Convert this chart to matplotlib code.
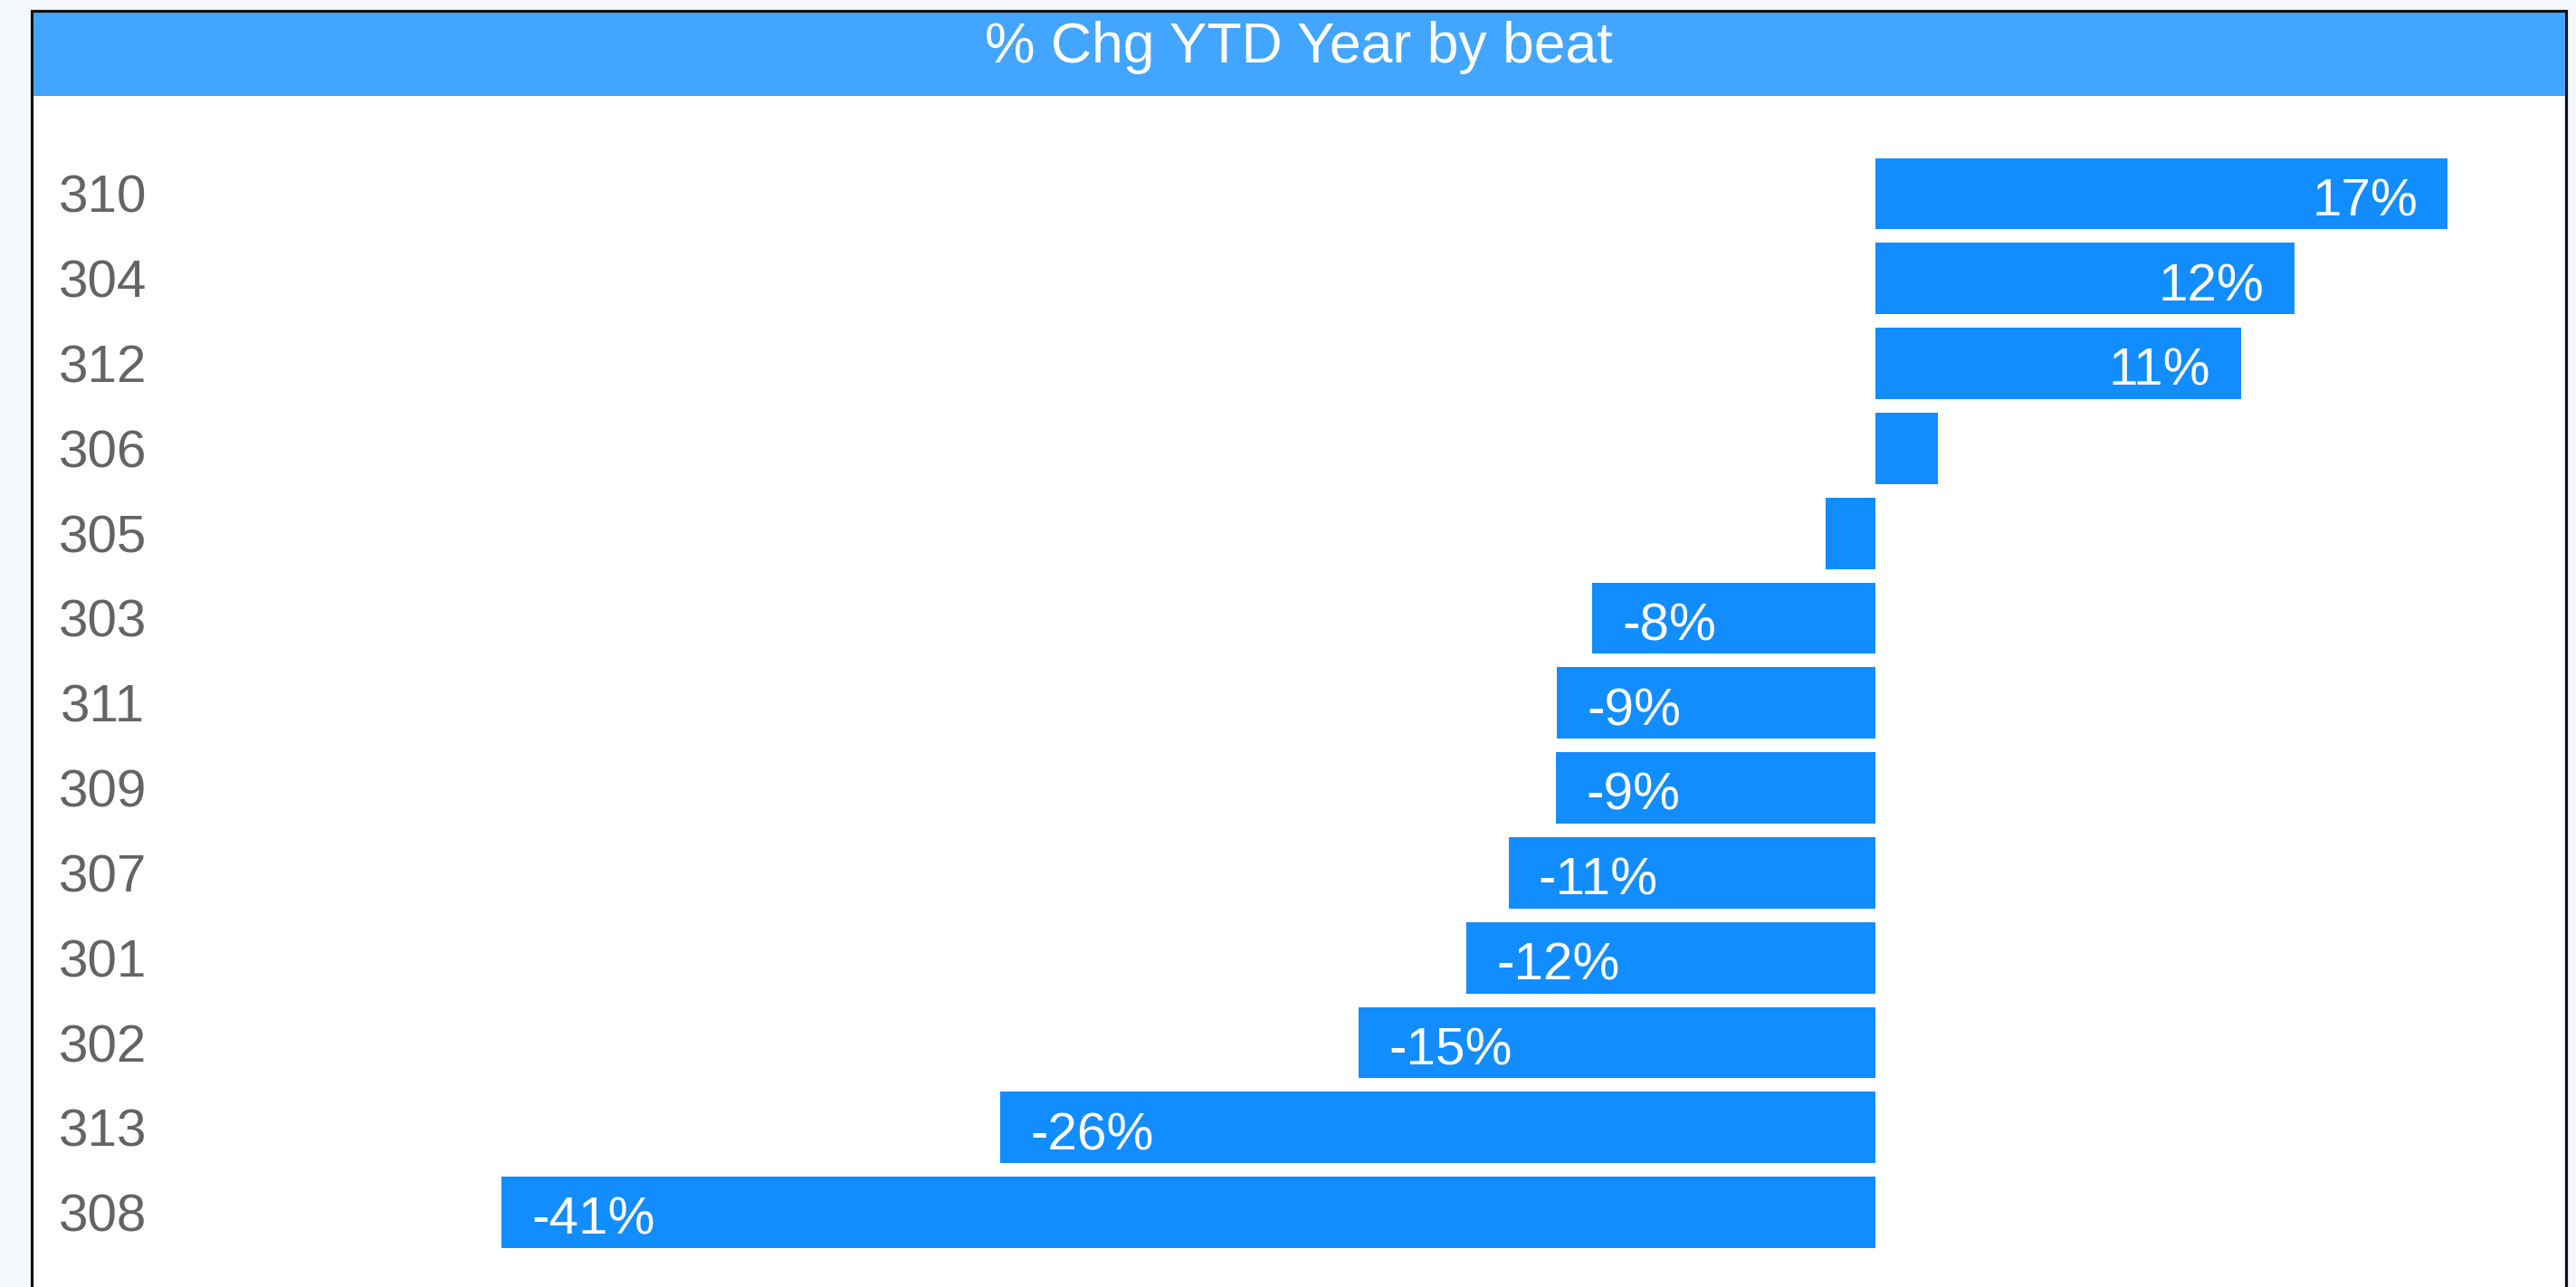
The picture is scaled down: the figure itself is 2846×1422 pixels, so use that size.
import matplotlib
matplotlib.use("Agg")
import matplotlib.pyplot as plt
from matplotlib.patches import Rectangle

plt.rcParams['font.family'] = ['Liberation Sans', 'DejaVu Sans']

# data
beats = ['310', '304', '312', '306', '305', '303', '311', '309', '307', '301', '302', '313', '308']
pct_chg = [17.0, 12.45, 10.85, 1.85, -1.47, -8.42, -9.47, -9.49, -10.9, -12.16, -15.35, -26.0, -40.8]
title = '% Chg YTD Year by beat'

W, H = 2846, 1422
fig = plt.figure(figsize=(W / 100, H / 100), dpi=100, facecolor='#F4F8FD')

# outer card frame + title banner (pixel positions -> figure fractions)
frame_l, frame_r, frame_t = 35, 2835, 12
fig.patches.append(Rectangle((frame_l / W, -0.05), (frame_r - frame_l) / W, 1.05 - frame_t / H,
                             transform=fig.transFigure, facecolor='white', edgecolor='#111111',
                             linewidth=2.3, zorder=-3))
fig.patches.append(Rectangle(((frame_l + 1.5) / W, 1 - 106 / H), (frame_r - frame_l - 3) / W, (106 - 13.5) / H,
                             transform=fig.transFigure, facecolor='#42A5FF', edgecolor='none', zorder=-2))
fig.text((frame_l + frame_r) / 2 / W, 1 - 69 / H, title, color='white', fontsize=45,
         ha='center', va='baseline')

# axes placed so that zero sits at x=2072px, 37.2px per percent point
zero_px, px_per = 2072, 37.2
ax_l, ax_r = 180, 2800
row_px, row0 = 93.8, 214
ax_top = row0 - row_px / 2
ax_bot = row0 + (len(beats) - 0.5) * row_px
ax = fig.add_axes([ax_l / W, 1 - ax_bot / H, (ax_r - ax_l) / W, (ax_bot - ax_top) / H])
ax.set_facecolor('none')

ypos = list(range(len(beats)))
ax.barh(ypos, pct_chg, height=0.84, color='#118DFF')
ax.set_xlim((ax_l - zero_px) / px_per, (ax_r - zero_px) / px_per)
ax.set_ylim(len(beats) - 0.5, -0.5)

ax.set_xticks([])
ax.set_yticks(ypos, labels=beats)
ax.tick_params(axis='y', length=0, pad=48, labelsize=42, labelcolor='#646464')
for lbl in ax.get_yticklabels():
    lbl.set_horizontalalignment('center')
for s in ax.spines.values():
    s.set_visible(False)

# data labels inside bars (skipped for tiny bars)
for y, v in zip(ypos, pct_chg):
    if abs(v) < 5:
        continue
    if v > 0:
        ax.annotate(f"{v:.0f}%", (v, y), xytext=(-24, -17.5), textcoords='offset points',
                    ha='right', va='baseline', color='white', fontsize=42)
    else:
        ax.annotate(f"{v:.0f}%", (v, y), xytext=(24, -17.5), textcoords='offset points',
                    ha='left', va='baseline', color='white', fontsize=42)

fig.savefig('out.png', dpi=100, facecolor=fig.get_facecolor())
